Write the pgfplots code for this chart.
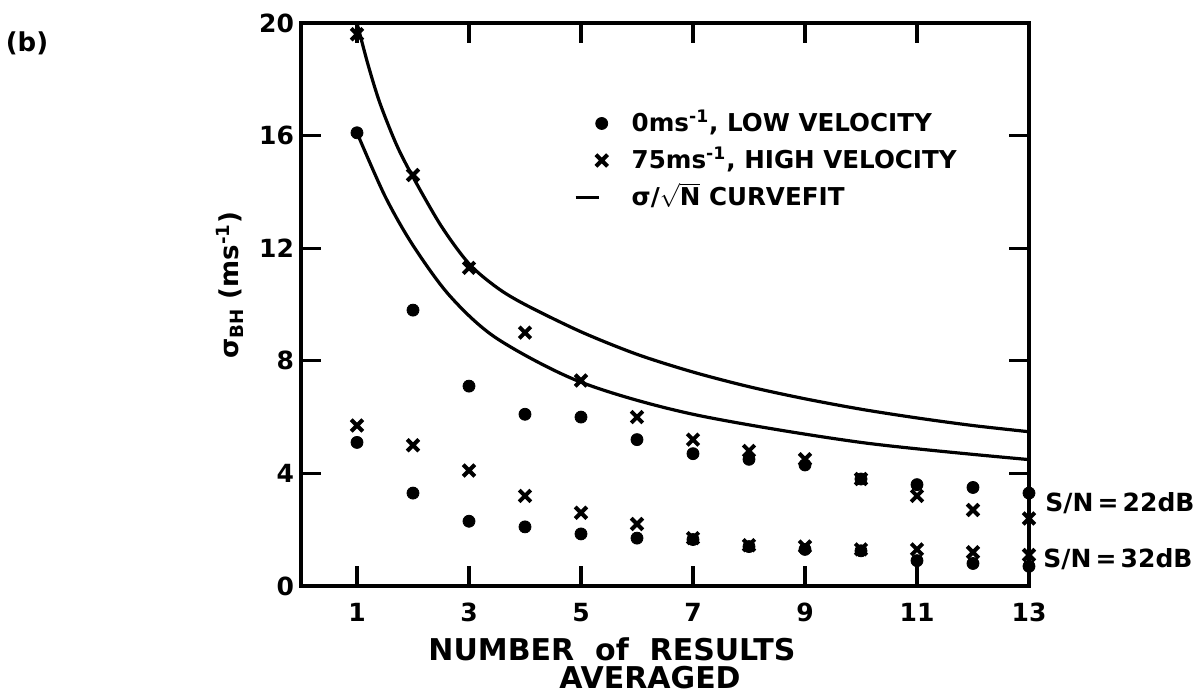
\documentclass[border=0pt]{standalone}
\usepackage{fontspec}
\setmainfont{DejaVu Sans}
\usepackage{pgfplots}
\pgfplotsset{compat=1.18}

% legend images: mark at the right of a short slot, or a short line
\pgfplotsset{
  markleg/.style={legend image code/.code={\path[draw=none,fill=none] (0pt,-3pt) rectangle (17pt,3pt);
    \draw[##1] plot coordinates {(13pt,1pt)};}},
  lineleg/.style={legend image code/.code={\path[draw=none,fill=none] (0pt,-3pt) rectangle (17pt,3pt);
    \draw[##1] (0pt,1pt) -- (11.5pt,1pt);}},
  dotmark/.style={only marks, mark=*, mark size=3pt, black},
  crossmark/.style={only marks, mark=x, mark size=4.1pt, black,
    mark options={line width=2pt}},
}

% sigma_BH against number of results averaged
% upper group: S/N = 22 dB, lower group: S/N = 32 dB
\pgfplotstableread{
n  low   high
1  16.1  19.6
2  9.8   14.6
3  7.1   11.3
4  6.1   9.0
5  6.0   7.3
6  5.2   6.0
7  4.7   5.2
8  4.5   4.8
9  4.3   4.5
10 3.8   3.8
11 3.6   3.2
12 3.5   2.7
13 3.3   2.4
}\snrlow

\pgfplotstableread{
n  low   high
1  5.1   5.7
2  3.3   5.0
3  2.3   4.1
4  2.1   3.2
5  1.85  2.6
6  1.7   2.2
7  1.65  1.7
8  1.4   1.45
9  1.3   1.4
10 1.25  1.3
11 0.9   1.3
12 0.8   1.2
13 0.7   1.1
}\snrhigh

% hand-drawn sigma/sqrt(N) curves
\pgfplotstableread{
n     y
1.0   20.0
1.2   18.5
1.41  17.15
1.7   15.7
1.98  14.6
2.5   12.8
3     11.45
3.5   10.6
4     10.0
5     9.03
6     8.23
7     7.6
8     7.08
9     6.65
10    6.28
11    5.97
12    5.7
13    5.48
}\uppercurve

\pgfplotstableread{
n     y
1.0   16.1
1.5   13.85
2     12.1
2.66  10.3
3.5   8.79
5     7.24
7     6.1
10    5.1
13    4.49
}\lowercurve

\begin{document}
\begin{tikzpicture}[x=1pt,y=1pt]
\path[use as bounding box] (-150.5,-54) rectangle (447.5,293);
\begin{axis}[
  at={(0,0)}, anchor=south west,
  scale only axis, width=364pt, height=281.5pt,
  xmin=0, xmax=13, ymin=0, ymax=20,
  xtick={1,3,...,13}, ytick={0,4,...,20},
  tick align=inside, major tick length=10pt,
  axis line style={line width=1.8pt},
  every tick/.style={line width=1.6pt, black},
  tick label style={font=\bfseries\fontsize{12.5}{14}\selectfont},
  xticklabel style={yshift=-5pt},
  /pgf/number format/assume math mode=true,
  clip=false,
  legend style={at={(axis cs:4.87,16.8)}, anchor=north west, draw=none, fill=none,
    inner sep=0pt, row sep=6.5pt, column sep=11pt,
    font=\bfseries\fontsize{12.3}{14}\selectfont,
    nodes={inner sep=0pt, text height=9pt, text depth=3pt}},
  legend cell align=left,
]
\addplot[dotmark, markleg] table[x=n, y=low] {\snrlow};
\addlegendentry{0ms\textsuperscript{-1}, LOW VELOCITY}
\addplot[crossmark, markleg] table[x=n, y=high] {\snrlow};
\addlegendentry{75ms\textsuperscript{-1}, HIGH VELOCITY}
\addplot[black, line width=1.6pt, smooth, lineleg] table[x=n, y=y] {\uppercurve};
\addlegendentry{σ/$\sqrt{\mbox{\bfseries N}}$ CURVEFIT}
\addplot[black, line width=1.6pt, smooth, forget plot] table[x=n, y=y] {\lowercurve};
\addplot[dotmark, forget plot] table[x=n, y=low] {\snrhigh};
\addplot[crossmark, forget plot] table[x=n, y=high] {\snrhigh};
\node[anchor=west, font=\bfseries\fontsize{12.5}{14}\selectfont, inner sep=0pt]
  at (axis cs:13,2.95) [xshift=8pt] {S/N\,=\,22dB};
\node[anchor=west, font=\bfseries\fontsize{12.5}{14}\selectfont, inner sep=0pt]
  at (axis cs:13,0.96) [xshift=7pt] {S/N\,=\,32dB};
\end{axis}
\node[font=\bfseries\fontsize{13}{15}\selectfont] at (-137,271.5) {(b)};
\node[rotate=90, font=\bfseries\fontsize{13}{15}\selectfont] at (-35.5,150.5)
  {σ\textsubscript{BH} (ms\textsuperscript{-1})};
\node[font=\bfseries\fontsize{15}{17}\selectfont] at (155.5,-31.5) {NUMBER\ \ of\ \ RESULTS};
\node[font=\bfseries\fontsize{15}{17}\selectfont] at (174.5,-46) {AVERAGED};
\end{tikzpicture}
\end{document}
